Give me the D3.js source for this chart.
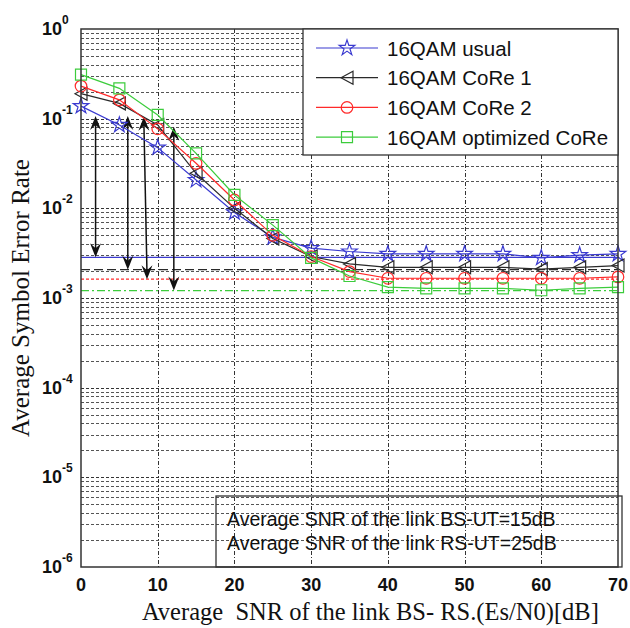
<!DOCTYPE html>
<html>
<head>
<meta charset="utf-8">
<script src="https://cdn.jsdelivr.net/npm/d3@7"></script>
<style>
  html, body { margin: 0; padding: 0; background: #fff; }
  svg { display: block; }
</style>
</head>
<body>
<svg id="chart" width="630" height="628"></svg>
<script>
// SNR of the BS-RS link (dB)
const snr = [0, 5, 10, 15, 20, 25, 30, 35, 40, 45, 50, 55, 60, 65, 70];

// Average symbol error rate per scheme
const serUsual = [0.138, 0.085, 0.0475, 0.0207, 0.0090, 0.00475, 0.0036, 0.0033, 0.0031, 0.0031, 0.0031, 0.0031, 0.0028, 0.0030, 0.0031];
const serCoRe1 = [0.19, 0.148, 0.085, 0.0246, 0.0100, 0.0046, 0.0029, 0.0024, 0.0022, 0.0022, 0.0022, 0.0022, 0.0021, 0.0022, 0.0023];
const serCoRe2 = [0.231, 0.162, 0.077, 0.0318, 0.0124, 0.0050, 0.0029, 0.00197, 0.00166, 0.00166, 0.00166, 0.00166, 0.00166, 0.00166, 0.00172];
const serOptCoRe = [0.31, 0.218, 0.11, 0.041, 0.0141, 0.0065, 0.0028, 0.00176, 0.00132, 0.00128, 0.00128, 0.00128, 0.00122, 0.00128, 0.00132];

// Error floor reference levels
const floorLevels = [0.00284, 0.00207, 0.00162, 0.00121];

// Double-headed arrows: x at top/bottom (dB), top SER, index of floor level at bottom
const arrowXTop = [1.9, 6.1, 8.2, 12.1];
const arrowXBottom = [1.9, 6.1, 8.6, 12.1];
const arrowTop = [0.107, 0.107, 0.105, 0.0813];
const arrowFloor = [0, 1, 2, 3];

const seriesNames = ["16QAM usual", "16QAM CoRe 1", "16QAM CoRe 2", "16QAM optimized CoRe"];
const xTicks = [0, 10, 20, 30, 40, 50, 60, 70];
const yExponents = [0, -1, -2, -3, -4, -5, -6];
const noteLines = ["Average SNR of the link BS-UT=15dB", "Average SNR of the link RS-UT=25dB"];
const xTitle = "Average  SNR of the link BS- RS.(Es/N0)[dB]";
const yTitle = "Average Symbol Error Rate";

const colors = ["#3a3ad0", "#2a2a2a", "#ff2a2a", "#3ccc3c"];
const floorDash = [null, "9,4", "3,2", "8,3,2,3"];
const markers = ["star", "triLeft", "circle", "square"];

const svg = d3.select("#chart");
const m = { left: 81, right: 618, top: 29, bottom: 567 };

const x = d3.scaleLinear().domain([0, 70]).range([m.left, m.right]);
const y = d3.scaleLog().domain([1e-6, 1]).range([m.bottom, m.top]);
const snap = v => Math.round(v) + 0.5;

// Grid
const grid = svg.append("g").attr("shape-rendering", "crispEdges");
const minorVals = [];
for (let e = -6; e < 0; e++) for (let k = 2; k <= 9; k++) minorVals.push(k * Math.pow(10, e));
grid.selectAll("line.minor").data(minorVals).join("line")
  .attr("x1", m.left).attr("x2", m.right)
  .attr("y1", d => snap(y(d))).attr("y2", d => snap(y(d)))
  .attr("stroke", "#555").attr("stroke-width", 1).attr("stroke-dasharray", "3,2");
grid.selectAll("line.major").data(yExponents.slice(1, -1)).join("line")
  .attr("x1", m.left).attr("x2", m.right)
  .attr("y1", d => snap(y(Math.pow(10, d)))).attr("y2", d => snap(y(Math.pow(10, d))))
  .attr("stroke", "#333").attr("stroke-width", 1).attr("stroke-dasharray", "3,2");
grid.selectAll("line.vx").data(xTicks.slice(1, -1)).join("line")
  .attr("x1", d => snap(x(d))).attr("x2", d => snap(x(d)))
  .attr("y1", m.top).attr("y2", m.bottom)
  .attr("stroke", "#333").attr("stroke-width", 1).attr("stroke-dasharray", "4,2,1,2");

// Floor reference lines
svg.append("g").selectAll("line").data(floorLevels).join("line")
  .attr("x1", m.left).attr("x2", m.right)
  .attr("y1", d => y(d)).attr("y2", d => y(d))
  .attr("stroke", (d, i) => colors[i]).attr("stroke-width", 1.3)
  .attr("stroke-dasharray", (d, i) => floorDash[i]);

// Arrows
const arrowG = svg.append("g");
function head(tipX, tipY, dir) {
  // dir = -1 points up, +1 points down
  const L = 14, W = 5.5, N = 9;
  return `M${tipX},${tipY} L${tipX - W},${tipY - dir * L} L${tipX},${tipY - dir * N} L${tipX + W},${tipY - dir * L} Z`;
}
arrowXTop.forEach((xt, i) => {
  const x1 = x(xt), y1 = y(arrowTop[i]);
  const x2 = x(arrowXBottom[i]), y2 = y(floorLevels[arrowFloor[i]]);
  arrowG.append("line").attr("x1", x1).attr("y1", y1 + 6).attr("x2", x2).attr("y2", y2 - 6)
    .attr("stroke", "#111").attr("stroke-width", 1.5);
  arrowG.append("path").attr("d", head(x1, y1, -1)).attr("fill", "#111");
  arrowG.append("path").attr("d", head(x2, y2, 1)).attr("fill", "#111");
});

// Series
const allSeries = [serUsual, serCoRe1, serCoRe2, serOptCoRe];
function markerPath(kind) {
  if (kind === "star") return d3.symbol().type(d3.symbolStar).size(75)();
  if (kind === "circle") return d3.symbol().type(d3.symbolCircle).size(105)();
  if (kind === "square") return "M-5.5,-5.5H5.5V5.5H-5.5Z";
  return "M-6,0L6,-6.5L6,6.5Z";
}
const line = d3.line().x((d, i) => x(snr[i])).y(d => y(d));
allSeries.forEach((vals, s) => {
  const g = svg.append("g");
  g.append("path").datum(vals).attr("d", line)
    .attr("fill", "none").attr("stroke", colors[s]).attr("stroke-width", 1.2);
  g.selectAll("path.mk").data(vals).join("path").attr("class", "mk")
    .attr("d", markerPath(markers[s]))
    .attr("transform", (d, i) => `translate(${x(snr[i])},${y(d)})`)
    .attr("fill", "none").attr("stroke", colors[s]).attr("stroke-width", 1.2);
});

// Axes box
svg.append("rect").attr("x", m.left).attr("y", m.top)
  .attr("width", m.right - m.left).attr("height", m.bottom - m.top)
  .attr("fill", "none").attr("stroke", "#333").attr("stroke-width", 1.5);

// Tick labels
svg.append("g").selectAll("text").data(xTicks).join("text")
  .attr("x", d => x(d)).attr("y", 591)
  .attr("text-anchor", "middle")
  .attr("font-family", "Liberation Sans, Arial, sans-serif")
  .attr("font-weight", "bold").attr("font-size", 18).attr("fill", "#111")
  .text(d => d);

const yl = svg.append("g").selectAll("text").data(yExponents).join("text")
  .attr("x", 42).attr("y", d => y(Math.pow(10, d)) + 6)
  .attr("font-family", "Liberation Sans, Arial, sans-serif")
  .attr("font-weight", "bold").attr("font-size", 18).attr("fill", "#111");
yl.append("tspan").text("10");
yl.append("tspan").attr("dy", -11).attr("font-size", 12).text(d => d);

// Axis titles
svg.append("text").attr("x", 142).attr("y", 620)
  .attr("font-family", "Liberation Serif, Times New Roman, serif")
  .attr("font-size", 24.5).attr("fill", "#111")
  .style("white-space", "pre")
  .text(xTitle);
svg.append("text")
  .attr("transform", `translate(29,${(m.top + m.bottom) / 2}) rotate(-90)`)
  .attr("text-anchor", "middle")
  .attr("font-family", "Liberation Serif, Times New Roman, serif")
  .attr("font-size", 25).attr("fill", "#111")
  .text(yTitle);

// Legend
const lg = svg.append("g");
lg.append("rect").attr("x", 303).attr("y", m.top).attr("width", m.right - 303).attr("height", 126)
  .attr("fill", "#fff").attr("stroke", "#333").attr("stroke-width", 1.3);
seriesNames.forEach((name, i) => {
  const cy = 48 + i * 29.7;
  lg.append("line").attr("x1", 316).attr("x2", 378).attr("y1", cy).attr("y2", cy)
    .attr("stroke", colors[i]).attr("stroke-width", 1.2);
  lg.append("path").attr("d", markerPath(markers[i]))
    .attr("transform", `translate(347,${cy})`)
    .attr("fill", "none").attr("stroke", colors[i]).attr("stroke-width", 1.2);
  lg.append("text").attr("x", 387).attr("y", cy + 7.5)
    .attr("font-family", "Liberation Sans, Arial, sans-serif")
    .attr("font-size", 20.5).attr("fill", "#111")
    .text(name);
});

// Note box
const nb = svg.append("g");
nb.append("rect").attr("x", 216).attr("y", 496).attr("width", 406).attr("height", m.bottom - 496)
  .attr("fill", "none").attr("stroke", "#333").attr("stroke-width", 1.3);
noteLines.forEach((t, i) => {
  nb.append("text").attr("x", 227).attr("y", 526 + i * 24)
    .attr("font-family", "Liberation Sans, Arial, sans-serif")
    .attr("font-size", 19.5).attr("fill", "#111")
    .text(t);
});
</script>
</body>
</html>
